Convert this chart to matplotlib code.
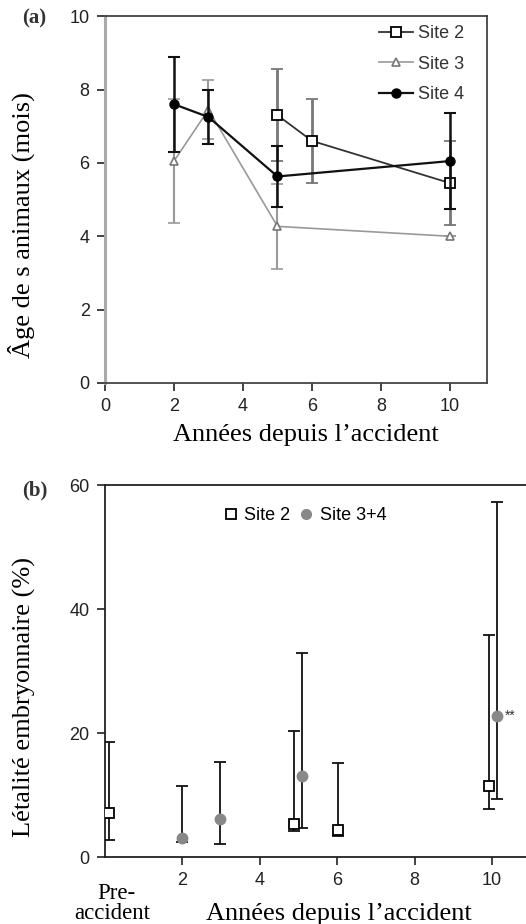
import matplotlib
matplotlib.use("Agg")
import matplotlib.pyplot as plt
from matplotlib.lines import Line2D
import numpy as np

# ---- Panel (a) data ----
site2_x = [5, 6, 10]
site2_y = [7.30, 6.60, 5.45]
site2_err = [1.25, 1.15, 1.15]

site3_x = [2, 3, 5, 10]
site3_y = [6.05, 7.45, 4.27, 4.00]
site3_err = [1.68, 0.80, 1.15, 0.0]

site4_x = [2, 3, 5, 10]
site4_y = [7.60, 7.25, 5.63, 6.05]
site4_err = [1.30, 0.74, 0.83, 1.32]

# ---- Panel (b) data ----
b_site2_x = [0.1, 4.88, 6.02, 9.92]
b_site2_y = [7.1, 5.4, 4.4, 11.5]
b_site2_lo = [2.8, 4.2, 3.35, 7.7]
b_site2_hi = [18.6, 20.3, 15.2, 35.8]

b_site34_x = [1.99, 2.98, 5.1, 10.12]
b_site34_y = [3.1, 6.2, 13.1, 22.8]
b_site34_lo = [2.4, 2.05, 4.75, 9.3]
b_site34_hi = [11.5, 15.4, 32.85, 57.3]

a_xticks = [0, 2, 4, 6, 8, 10]
a_yticks = [0, 2, 4, 6, 8, 10]
b_xticks = [2, 4, 6, 8, 10]
b_yticks = [0, 20, 40, 60]

sans = ['Liberation Sans', 'DejaVu Sans']
serif = ['Liberation Serif', 'DejaVu Serif']
TICK = 13
LAB = 19

fig = plt.figure(figsize=(5.26, 9.24), dpi=100)

# ---------------- Panel (a) ----------------
ax = fig.add_axes([0.1996, 0.5855, 0.726, 0.397])
s3 = dict(color='#999999', lw=1.2, marker='^', ms=6, mfc='white', mec='#777777', mew=1.2)
s2 = dict(color='#333333', lw=1.3, marker='s', ms=6.5, mfc='white', mec='black', mew=1.3)
s4 = dict(color='#111111', lw=1.6, marker='o', ms=6.5, mfc='black', mec='black')
ax.errorbar(site3_x, site3_y, yerr=site3_err, capsize=4, elinewidth=1.5,
            capthick=1.5, ecolor='#999999', zorder=2, **s3)
ax.errorbar(site2_x, site2_y, yerr=site2_err, capsize=4, elinewidth=2,
            capthick=1.5, ecolor='#777777', zorder=3, **s2)
ax.errorbar(site4_x, site4_y, yerr=site4_err, capsize=4, elinewidth=1.8,
            capthick=1.5, ecolor='#111111', zorder=4, **s4)

ax.set_xlim(0, 11.07)
ax.set_ylim(0, 10)
ax.set_xticks(a_xticks)
ax.set_yticks(a_yticks)
ax.tick_params(direction='out', length=6, width=1.2, labelsize=TICK,
               colors='#222222', pad=5)
for lab in ax.get_xticklabels() + ax.get_yticklabels():
    lab.set_family(sans)
ax.spines['left'].set_color('#aaaaaa')
ax.spines['left'].set_linewidth(2.2)
ax.spines['bottom'].set_color('#444444')
ax.spines['bottom'].set_linewidth(1.3)
for s in ['top', 'right']:
    ax.spines[s].set_color('#333333')
    ax.spines[s].set_linewidth(1.2)

handles = [Line2D([], [], **s2), Line2D([], [], **s3), Line2D([], [], **s4)]
leg = ax.legend(handles, ['Site 2', 'Site 3', 'Site 4'], loc='upper right',
                bbox_to_anchor=(0.97, 1.005),
                frameon=False, prop={'family': sans, 'size': TICK},
                handlelength=1.9, handletextpad=0.3, labelspacing=0.75,
                borderaxespad=0.2)
for t in leg.get_texts():
    t.set_color('#333333')

ax.set_xlabel('Années depuis l\u2019accident', family=serif, fontsize=LAB)
ax.xaxis.set_label_coords(0.526, -0.111)
ax.set_ylabel('Âge de s animaux (mois)', family=serif, fontsize=LAB)
ax.yaxis.set_label_coords(-0.182, 0.43)
fig.text(0.042, 0.9805, '(a)', family=serif, fontsize=15, fontweight='bold',
         va='center', ha='left', color='#333333')

# ---------------- Panel (b) ----------------
bx = fig.add_axes([0.1996, 0.0725, 0.8004, 0.4025])
bx.errorbar(b_site2_x, b_site2_y,
            yerr=[np.array(b_site2_y) - np.array(b_site2_lo),
                  np.array(b_site2_hi) - np.array(b_site2_y)],
            fmt='s', ms=7, mfc='white', mec='black', mew=1.3,
            ecolor='#111111', elinewidth=1.3, capsize=4, capthick=1.3, zorder=3)
bx.errorbar(b_site34_x, b_site34_y,
            yerr=[np.array(b_site34_y) - np.array(b_site34_lo),
                  np.array(b_site34_hi) - np.array(b_site34_y)],
            fmt='o', ms=7.5, mfc='#888888', mec='#888888',
            ecolor='#111111', elinewidth=1.3, capsize=4, capthick=1.3, zorder=3)
bx.text(b_site34_x[-1] + 0.2, b_site34_y[-1], '**', fontsize=10, va='center',
        ha='left', family=sans, color='#333333')

bx.set_xlim(0, 10.88)
bx.set_ylim(0, 60)
bx.set_xticks(b_xticks)
bx.set_yticks(b_yticks)
bx.tick_params(direction='out', length=6, width=1.2, labelsize=TICK,
               colors='#222222', pad=5)
for lab in bx.get_xticklabels() + bx.get_yticklabels():
    lab.set_family(sans)
bx.spines['right'].set_visible(False)
for s in ['left', 'bottom', 'top']:
    bx.spines[s].set_linewidth(1.3)
    bx.spines[s].set_color('#222222')

bh = [Line2D([], [], ls='none', marker='s', ms=7, mfc='white', mec='black', mew=1.3),
      Line2D([], [], ls='none', marker='o', ms=7, mfc='#888888', mec='#888888')]
bx.legend(bh, ['Site 2', 'Site 3+4'], loc='upper center',
          bbox_to_anchor=(0.475, 0.985), ncol=2,
          frameon=False, prop={'family': sans, 'size': TICK},
          handlelength=0.8, handletextpad=0.35, columnspacing=0.5)

bx.set_xlabel('Années depuis l\u2019accident', family=serif, fontsize=LAB)
bx.xaxis.set_label_coords(0.556, -0.124)
bx.set_ylabel('Létalité embryonnaire (%)', family=serif, fontsize=LAB)
bx.yaxis.set_label_coords(-0.164, 0.43)
bx.text(0.3, -0.098, 'Pre-', transform=bx.get_xaxis_transform(),
        family=serif, fontsize=16.5, ha='center', va='center')
bx.text(0.2, -0.152, 'accident', transform=bx.get_xaxis_transform(),
        family=serif, fontsize=16.5, ha='center', va='center')
fig.text(0.042, 0.4695, '(b)', family=serif, fontsize=15, fontweight='bold',
         va='center', ha='left', color='#333333')

fig.savefig('out.png', dpi=100)
